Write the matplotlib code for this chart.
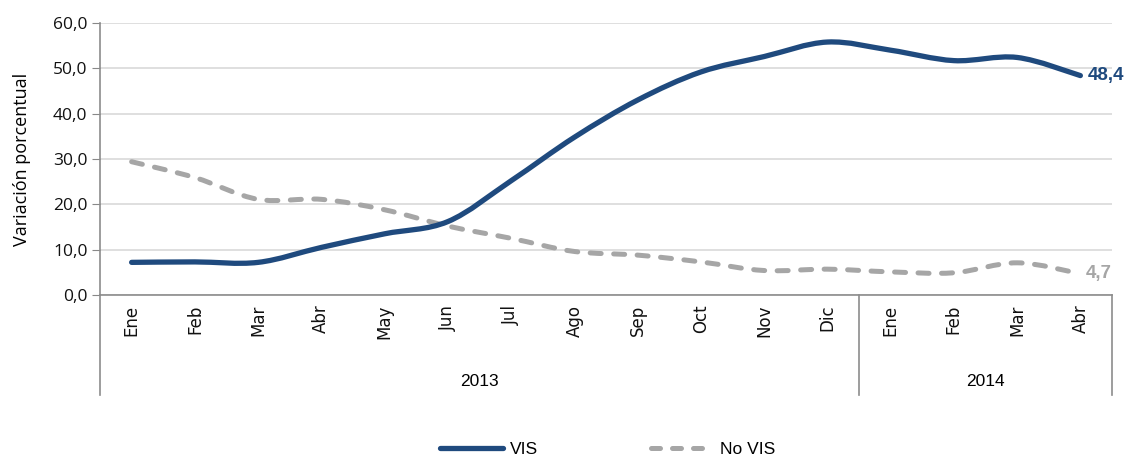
import matplotlib
matplotlib.use("Agg")
import matplotlib.pyplot as plt
from matplotlib.path import Path
from matplotlib.patches import PathPatch
from matplotlib.lines import Line2D
import matplotlib.transforms as mtransforms

# datos
meses = ["Ene", "Feb", "Mar", "Abr", "May", "Jun", "Jul", "Ago", "Sep", "Oct",
         "Nov", "Dic", "Ene", "Feb", "Mar", "Abr"]
anios = ["2013", "2014"]
meses_por_anio = [12, 4]
vis = [7.2, 7.3, 7.2, 10.5, 13.5, 16.2, 25.2, 34.8, 43.0, 49.2, 52.6, 55.8,
       54.0, 51.7, 52.4, 48.4]
no_vis = [29.4, 25.9, 21.1, 21.1, 18.8, 15.2, 12.5, 9.6, 8.8, 7.3, 5.4, 5.7,
          5.1, 4.9, 7.1, 4.7]

AZUL = "#1f4a7e"
GRIS = "#a6a6a6"
ESTRECHA = ["Liberation Sans", "DejaVu Sans"]


def curva_suave(xs, ys):
    # curva tipo Excel (Bezier con tangentes de Catmull-Rom)
    pts = list(zip(xs, ys))
    n = len(pts)
    verts = [pts[0]]
    codes = [Path.MOVETO]
    for i in range(n - 1):
        p0 = pts[i - 1] if i > 0 else pts[i]
        p1 = pts[i]
        p2 = pts[i + 1]
        p3 = pts[i + 2] if i + 2 < n else pts[i + 1]
        c1 = (p1[0] + (p2[0] - p0[0]) / 6, p1[1] + (p2[1] - p0[1]) / 6)
        c2 = (p2[0] - (p3[0] - p1[0]) / 6, p2[1] - (p3[1] - p1[1]) / 6)
        verts += [c1, c2, p2]
        codes += [Path.CURVE4] * 3
    return Path(verts, codes)


fig = plt.figure(figsize=(11.26, 4.57), dpi=100)
ax = fig.add_axes([100 / 1126, 1 - 295 / 457, 1012 / 1126, 272 / 457])

x = list(range(len(meses)))

ax.add_patch(PathPatch(curva_suave(x, no_vis), fill=False, edgecolor=GRIS,
                       lw=3.6, linestyle=(0, (2.2, 2.5)), capstyle="round",
                       zorder=3))
ax.add_patch(PathPatch(curva_suave(x, vis), fill=False, edgecolor=AZUL,
                       lw=3.8, capstyle="round", zorder=4))

ax.set_xlim(-0.5, len(meses) - 0.5)
ax.set_ylim(0, 60)
ax.set_yticks(range(0, 61, 10))
ax.set_yticklabels([f"{v:.1f}".replace(".", ",") for v in range(0, 61, 10)],
                   fontsize=12.5, family="Open Sans", color="#111111")
ax.tick_params(axis="y", length=6, color="#888888", pad=3)
ax.grid(axis="y", color="#d9d9d9", lw=1.2)
ax.set_axisbelow(True)

ax.set_xticks(x)
ax.set_xticklabels(meses, rotation=90, fontsize=12, family="DejaVu Sans",
                   color="#111111")
ax.tick_params(axis="x", length=0, pad=7)

for s in ["top", "right"]:
    ax.spines[s].set_visible(False)
for s in ["left", "bottom"]:
    ax.spines[s].set_color("#8c8c8c")
    ax.spines[s].set_linewidth(1.2)

ax.set_ylabel("Variación porcentual", fontsize=13, family="Open Sans",
              labelpad=16)

# grupos de años debajo del eje
trans = mtransforms.blended_transform_factory(ax.transData, ax.transAxes)
y_fondo = (295 - 395) / 272
inicio = -0.5
ax.plot([inicio, inicio], [0, y_fondo], transform=trans, color="#8c8c8c",
        lw=1.2, clip_on=False)
for anio, n in zip(anios, meses_por_anio):
    fin = inicio + n
    ax.plot([fin, fin], [0, y_fondo], transform=trans, color="#8c8c8c",
            lw=1.2, clip_on=False)
    ax.text((inicio + fin) / 2, (295 - 381) / 272, anio, transform=trans,
            ha="center", va="center", fontsize=12.5, family=ESTRECHA)
    inicio = fin

# etiquetas del último valor
ax.annotate(f"{vis[-1]:.1f}".replace(".", ","), (x[-1], vis[-1]),
            xytext=(5, 0), textcoords="offset points", ha="left", va="center",
            fontsize=13.5, fontweight="bold", color=AZUL, family=ESTRECHA,
            annotation_clip=False)
ax.annotate(f"{no_vis[-1]:.1f}".replace(".", ","), (x[-1], no_vis[-1]),
            xytext=(4, 0), textcoords="offset points", ha="left", va="center",
            fontsize=13.5, fontweight="bold", color=GRIS, family=ESTRECHA,
            annotation_clip=False)

# leyenda
handles = [
    Line2D([], [], color=AZUL, lw=3.8, solid_capstyle="round"),
    Line2D([], [], color=GRIS, lw=3.6, linestyle=(0, (1.8, 2.4)),
           dash_capstyle="round"),
]
fig.legend(handles, ["VIS", "No VIS"], loc="center", ncol=2,
           bbox_to_anchor=(0.54, 1 - 449 / 457), frameon=False,
           handlelength=3.6, handletextpad=0.4, columnspacing=6.5,
           prop={"family": ESTRECHA, "size": 12.5})

fig.savefig("out.png", dpi=100)
